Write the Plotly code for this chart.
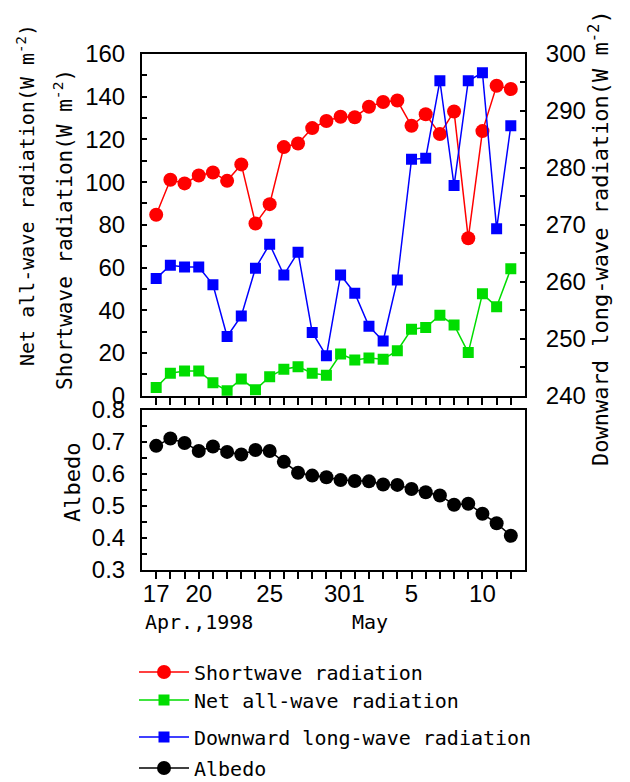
import plotly.graph_objects as go

days = ["1998-04-17", "1998-04-18", "1998-04-19", "1998-04-20", "1998-04-21", "1998-04-22",
        "1998-04-23", "1998-04-24", "1998-04-25", "1998-04-26", "1998-04-27", "1998-04-28",
        "1998-04-29", "1998-04-30", "1998-05-01", "1998-05-02", "1998-05-03", "1998-05-04",
        "1998-05-05", "1998-05-06", "1998-05-07", "1998-05-08", "1998-05-09", "1998-05-10",
        "1998-05-11", "1998-05-12"]

shortwave = [84.7, 101.1, 99.4, 103.1, 104.5, 100.6, 108.3, 80.6, 89.7, 116.4, 118.1, 125.3,
             128.6, 130.6, 130.4, 135.3, 137.5, 138.2, 126.4, 131.8, 122.5, 133.1, 73.7, 123.9,
             145.1, 143.6]
net_allwave = [3.8, 10.5, 11.6, 11.6, 6.1, 2.3, 7.8, 2.8, 8.9, 12.4, 13.6, 10.5, 9.6, 19.5,
               16.7, 17.7, 17.1, 21.1, 31.1, 31.9, 37.7, 33.1, 20.2, 47.7, 41.7, 59.4]
longwave = [260.6, 262.9, 262.6, 262.6, 259.5, 250.4, 254.0, 262.4, 266.6, 261.2, 265.2, 251.1,
            247.0, 261.2, 258.0, 252.2, 249.6, 260.3, 281.5, 281.7, 295.3, 276.9, 295.3, 296.7,
            269.3, 287.4]
albedo = [0.688, 0.711, 0.697, 0.672, 0.686, 0.669, 0.661, 0.675, 0.672, 0.638, 0.604, 0.595,
          0.590, 0.581, 0.578, 0.577, 0.567, 0.566, 0.553, 0.543, 0.533, 0.504, 0.507, 0.476,
          0.446, 0.407]

tick_days = days
tick_text = ["17", "", "", "20", "", "", "", "", "25", "", "", "", "", "30\u00a0", "\u00a01", "",
             "", "", "5", "", "", "", "", "10", "", ""]

MONO = "DejaVu Sans Mono"
NUM = "Liberation Sans Narrow, Liberation Sans, Arial"

fig = go.Figure()

fig.add_trace(go.Scatter(x=days, y=shortwave, mode="lines+markers", name="Shortwave radiation",
                         line=dict(color="#ff0000", width=1.5),
                         marker=dict(symbol="circle", size=14, color="#ff0000"),
                         xaxis="x", yaxis="y", legend="legend"))
fig.add_trace(go.Scatter(x=days, y=net_allwave, mode="lines+markers", name="Net all-wave radiation",
                         line=dict(color="#00dd00", width=1.5),
                         marker=dict(symbol="square", size=11, color="#00dd00"),
                         xaxis="x", yaxis="y", legend="legend2"))
fig.add_trace(go.Scatter(x=days, y=longwave, mode="lines+markers", name="Downward long-wave radiation",
                         line=dict(color="#0000ff", width=1.5),
                         marker=dict(symbol="square", size=11, color="#0000ff"),
                         xaxis="x", yaxis="y2", legend="legend3"))
fig.add_trace(go.Scatter(x=days, y=albedo, mode="lines+markers", name="Albedo",
                         line=dict(color="#000000", width=1.5),
                         marker=dict(symbol="circle", size=14, color="#000000"),
                         xaxis="x2", yaxis="y3", legend="legend4"))

xrange = ["1998-04-16", "1998-05-13"]
top_dom = [0.3378, 1.0]
bot_dom = [0.0, 0.3101]

axis_common = dict(showline=True, linecolor="black", linewidth=2, showgrid=False,
                   zeroline=False, tickcolor="black", tickwidth=2)

leg_common = dict(font=dict(family=MONO, size=20, color="black"), bgcolor="rgba(0,0,0,0)",
                  xanchor="left", yanchor="middle", borderwidth=0, itemwidth=50)

W, H = 630, 782
# reference plot area (in screenshot pixels)
PL, PR, PT, PB = 142, 525, 54, 570
PW, PH = PR - PL, PB - PT
OFF = 8  # page body offset
L, T = PL - OFF, PT - OFF
R = W - L - PW
B = H - T - PH


def px(x):
    return (x - PL) / PW


def py(y):
    return (PB - y) / PH


fig.update_layout(
    width=W, height=H,
    margin=dict(l=L, r=R, t=T, b=B, autoexpand=False),
    paper_bgcolor="white", plot_bgcolor="white",
    font=dict(family=NUM, size=24, color="black"),
    xaxis=dict(**axis_common, domain=[0, 1], anchor="y", range=xrange, type="date",
               tickmode="array", tickvals=tick_days, ticktext=[""] * len(days),
               ticks="outside", ticklen=7, mirror=True, showticklabels=False),
    yaxis=dict(**axis_common, domain=top_dom, anchor="x", range=[0, 160],
               tickmode="linear", tick0=0, dtick=20, ticks="inside", ticklen=5,
               minor=dict(dtick=10, ticks="inside", ticklen=5, tickcolor="black", tickwidth=2),
               ticklabelstandoff=10),
    yaxis2=dict(**axis_common, overlaying="y", side="right", anchor="x", range=[240, 300],
                tickmode="linear", tick0=240, dtick=10, ticks="inside", ticklen=5,
                minor=dict(dtick=5, ticks="inside", ticklen=5, tickcolor="black", tickwidth=2),
                ticklabelstandoff=14),
    xaxis2=dict(**axis_common, domain=[0, 1], anchor="y3", range=xrange, type="date",
                tickmode="array", tickvals=tick_days, ticktext=tick_text,
                ticks="outside", ticklen=7, mirror=True, tickangle=0,
                ticklabelstandoff=-6),
    yaxis3=dict(**axis_common, domain=bot_dom, anchor="x2", range=[0.3, 0.8],
                tickmode="linear", tick0=0.3, dtick=0.1, tickformat=".1f",
                ticks="inside", ticklen=5, mirror=True,
                minor=dict(dtick=0.05, ticks="inside", ticklen=5, tickcolor="black", tickwidth=2),
                ticklabelstandoff=10),
    legend=dict(**leg_common, x=px(134), y=py(672)),
    legend2=dict(**leg_common, x=px(134), y=py(700)),
    legend3=dict(**leg_common, x=px(134), y=py(737)),
    legend4=dict(**leg_common, x=px(134), y=py(768)),
    showlegend=True,
)

annotations = [
    dict(text="Net all-wave radiation(W m<sup>-2</sup>)", x=px(26), y=py(195), size=20),
    dict(text="Shortwave radiation(W m<sup>-2</sup>)", x=px(63), y=py(230), size=21),
    dict(text="Downward long-wave radiation(W m<sup>-2</sup>)", x=px(599), y=py(238), size=22),
    dict(text="Albedo", x=px(72), y=py(483), size=22),
]
for a in annotations:
    fig.add_annotation(text=a["text"], x=a["x"], y=a["y"], xref="paper", yref="paper",
                       textangle=-90, showarrow=False, xanchor="center", yanchor="middle",
                       font=dict(family=MONO, size=a["size"], color="black"))

ann_font = dict(family=MONO, size=20, color="black")
fig.add_annotation(text="Apr.,1998", x=px(143), y=py(622), xref="paper", yref="paper",
                   showarrow=False, xanchor="left", yanchor="middle", font=ann_font)
fig.add_annotation(text="May", x=px(370), y=py(622), xref="paper", yref="paper",
                   showarrow=False, xanchor="center", yanchor="middle", font=ann_font)

fig.write_html("out.html")
